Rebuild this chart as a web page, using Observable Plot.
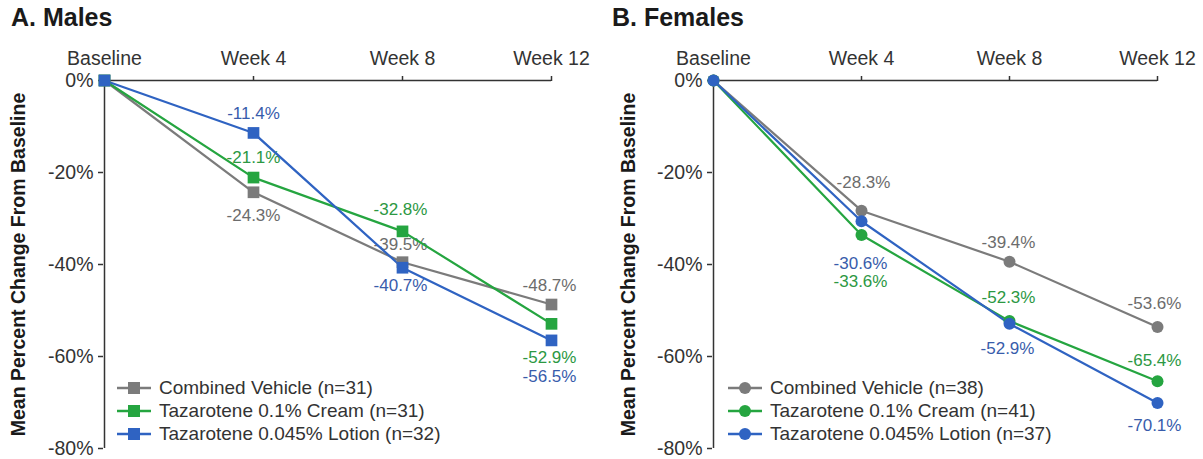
<!DOCTYPE html>
<html>
<head>
<meta charset="utf-8">
<script src="https://cdn.jsdelivr.net/npm/d3@7"></script>
<script src="https://cdn.jsdelivr.net/npm/@observablehq/plot@0.6"></script>
<style>
  body { margin: 0; background: #fff; font-family: "Liberation Sans", Arial, Helvetica, sans-serif; }
  #wrap { position: relative; width: 1203px; height: 459px; overflow: hidden; background: #fff; }
  .panel { position: absolute; top: 0; height: 459px; }
  .title { position: absolute; left: 11px; top: 0px; font-size: 25px; font-weight: bold; color: #1a1a1a; line-height: 34px; white-space: nowrap; }
  .chart { position: absolute; left: 0; top: 30px; }
  .legend { position: absolute; font-size: 19px; color: #333; }
  .legend .row { display: flex; align-items: center; height: 23px; white-space: nowrap; }
  .legend svg { margin-right: 8px; flex: none; }
</style>
</head>
<body>
<div id="wrap">
  <div class="panel" id="panelA" style="left:0;width:601px"></div>
  <div class="panel" id="panelB" style="left:601px;width:602px"></div>
</div>
<script>
// ---- data ----
const timepoints = ["Baseline", "Week 4", "Week 8", "Week 12"];
const yTicks = [0, -20, -40, -60, -80];
const seriesNames = ["Combined Vehicle", "Tazarotene 0.1% Cream", "Tazarotene 0.045% Lotion"];

const malesN = [31, 31, 32];
const malesVehicle = [0, -24.3, -39.5, -48.7];
const malesCream   = [0, -21.1, -32.8, -52.9];
const malesLotion  = [0, -11.4, -40.7, -56.5];

const femalesN = [38, 41, 37];
const femalesVehicle = [0, -28.3, -39.4, -53.6];
const femalesCream   = [0, -33.6, -52.3, -65.4];
const femalesLotion  = [0, -30.6, -52.9, -70.1];

// ---- styles ----
const lineColors = ["#7b7b7b", "#25a540", "#2f63c2"];
const textColors = ["#6c6c6c", "#2c9843", "#385cab"];
const FONT = '"Liberation Sans", Arial, Helvetica, sans-serif';

// value-label offsets [dx, dy] in px per series per timepoint (null = no label)
const offsetsA = [
  [null, [0, 23], [-2, -18], [-2, -19]],
  [null, [0, -20], [-2, -22], [-2, 34]],
  [null, [0, -19], [-2, 18], [-2, 36]]
];
const offsetsB = [
  [null, [2, -28], [-1, -19], [-3, -24]],
  [null, [-1, 46], [-1, -24], [-3, -21]],
  [null, [-1, 42], [-2, 25], [-3, 23]]
];

function buildPanel(el, cfg) {
  const series = cfg.values.map((vals, si) =>
    vals.map((v, ti) => ({series: seriesNames[si], si, time: timepoints[ti], ti, value: v})));

  const fmt = v => v.toFixed(1) + "%";
  const labelMarks = [];
  series.forEach((pts, si) => pts.forEach((p, ti) => {
    const off = cfg.offsets[si][ti];
    if (!off) return;
    labelMarks.push(Plot.text([p], {
      x: "time", y: "value", text: d => fmt(d.value),
      dx: off[0], dy: off[1], fill: textColors[si], fontSize: 17
    }));
  }));

  const chart = Plot.plot({
    width: cfg.width, height: 429,
    marginTop: 50, marginBottom: 11, marginLeft: cfg.ml, marginRight: cfg.mr,
    style: {fontFamily: FONT, fontSize: "19.5px", color: "#333", background: "transparent", overflow: "visible"},
    x: {type: "point", domain: timepoints, padding: 0, axis: null},
    y: {domain: [-80, 0], axis: null},
    marks: [
      Plot.ruleY([0], {stroke: "#333", strokeWidth: 1.5}),
      Plot.ruleX([timepoints[0]], {y1: 0, y2: -80, stroke: "#333", strokeWidth: 1.5}),
      Plot.axisX({anchor: "top", label: null, tickSize: 5, tickPadding: 11, fontSize: 19.5, stroke: "#333", strokeWidth: 1.5, fill: "#333", tickFormat: d => d}),
      Plot.axisY({anchor: "left", label: null, ticks: yTicks, tickSize: 5, tickPadding: 5, fontSize: 19.5, stroke: "#333", strokeWidth: 1.5, fill: "#333", tickFormat: d => d + "%"}),
      Plot.text(["Mean Percent Change From Baseline"], {
        frameAnchor: "left", textAnchor: "middle", rotate: -90, dx: cfg.labelDx, text: d => d,
        fontSize: 19.5, fontWeight: "bold", fill: "#1a1a1a"
      }),
      ...labelMarks,
      ...series.map((pts, si) => Plot.line(pts, {x: "time", y: "value", stroke: lineColors[si], strokeWidth: 2.2})),
      ...series.map((pts, si) => Plot.dot(pts, {x: "time", y: "value", fill: lineColors[si], stroke: "none", symbol: cfg.symbol, r: cfg.r}))
    ]
  });

  const title = document.createElement("div");
  title.className = "title";
  title.textContent = cfg.title;
  el.appendChild(title);

  const holder = document.createElement("div");
  holder.className = "chart";
  holder.appendChild(chart);
  el.appendChild(holder);

  const legend = document.createElement("div");
  legend.className = "legend";
  legend.style.left = cfg.legendLeft + "px";
  legend.style.top = cfg.legendTop + "px";
  seriesNames.forEach((name, si) => {
    const row = document.createElement("div");
    row.className = "row";
    const s = d3.create("svg").attr("width", 34).attr("height", 14);
    s.append("line").attr("x1", 0).attr("x2", 34).attr("y1", 7).attr("y2", 7)
      .attr("stroke", lineColors[si]).attr("stroke-width", 2.5);
    if (cfg.symbol === "square") {
      s.append("rect").attr("x", 11).attr("y", 1).attr("width", 12).attr("height", 12).attr("fill", lineColors[si]);
    } else {
      s.append("circle").attr("cx", 17).attr("cy", 7).attr("r", 6).attr("fill", lineColors[si]);
    }
    row.appendChild(s.node());
    const t = document.createElement("span");
    t.textContent = `${name} (n=${cfg.n[si]})`;
    row.appendChild(t);
    legend.appendChild(row);
  });
  el.appendChild(legend);
}

buildPanel(document.getElementById("panelA"), {
  title: "A. Males", width: 601, ml: 103, mr: 50, labelDx: -85,
  values: [malesVehicle, malesCream, malesLotion], n: malesN,
  offsets: offsetsA, symbol: "square", r: 6.6,
  legendLeft: 117, legendTop: 376
});
buildPanel(document.getElementById("panelB"), {
  title: "B. Females", width: 602, ml: 111, mr: 46, labelDx: -84,
  values: [femalesVehicle, femalesCream, femalesLotion], n: femalesN,
  offsets: offsetsB, symbol: "circle", r: 6,
  legendLeft: 127, legendTop: 376
});
</script>
</body>
</html>
